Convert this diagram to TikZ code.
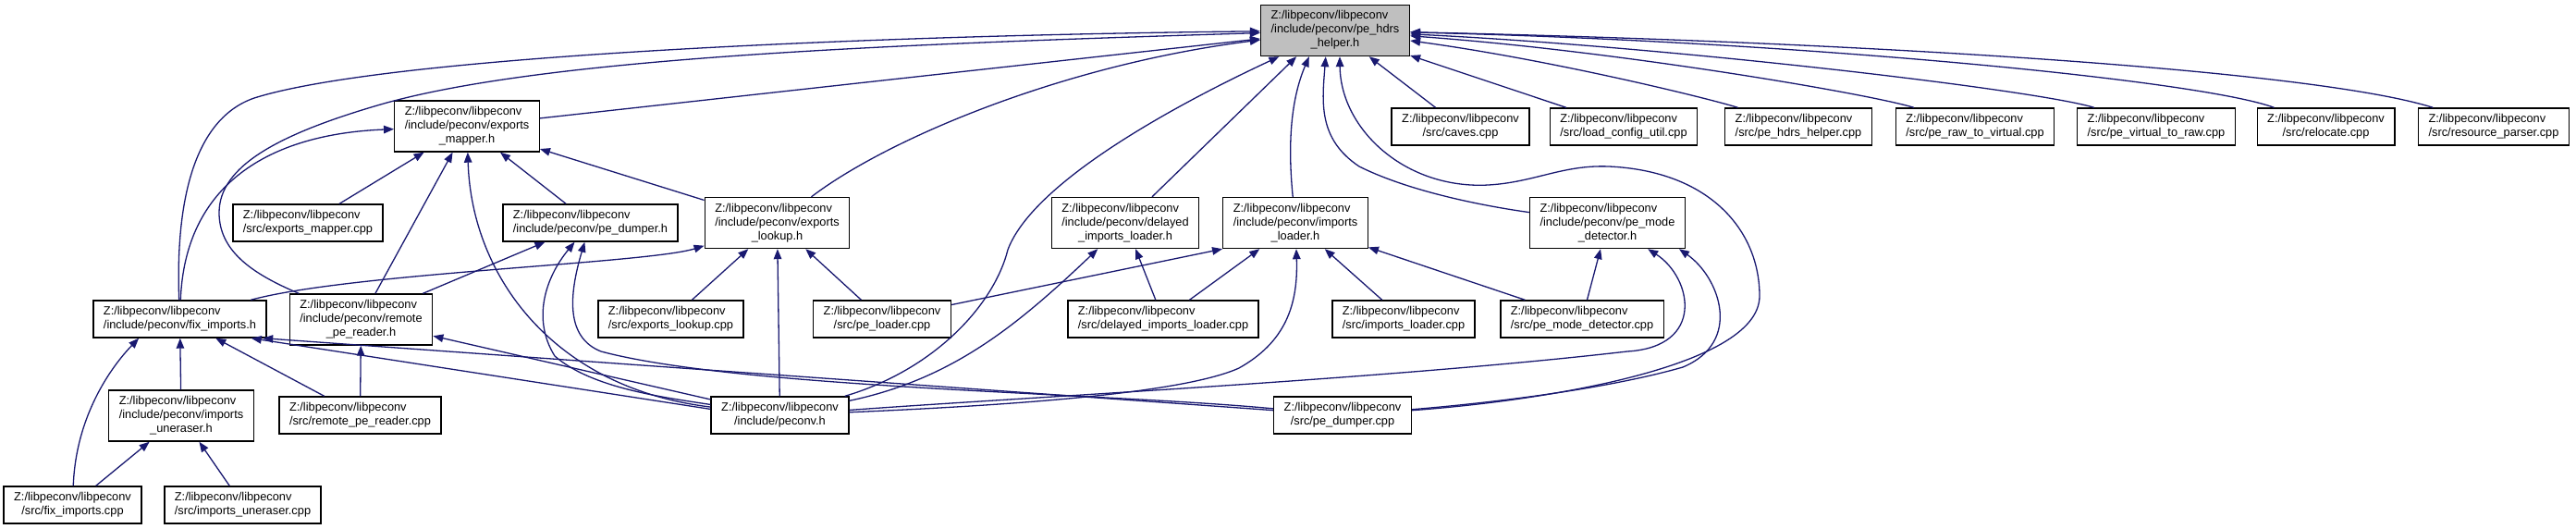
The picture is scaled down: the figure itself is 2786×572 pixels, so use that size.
\documentclass[tikz,border=0pt]{standalone}
\usepackage{fontspec}
\setmainfont{Liberation Sans}
\usetikzlibrary{arrows.meta}
\definecolor{edgeblue}{HTML}{191970}
\definecolor{curgray}{HTML}{BFBFBF}
\newcommand\libdir{Z:/libpeconv/libpeconv}
\newcommand\twol[1]{\begin{tabular}{@{}l@{}}\libdir\\\multicolumn{1}{@{}c@{}}{#1}\end{tabular}}
\newcommand\threel[2]{\begin{tabular}{@{}l@{}}\libdir\\#1\\\multicolumn{1}{@{}c@{}}{#2}\end{tabular}}
\begin{document}
\begin{tikzpicture}[x=1pt,y=-1pt,line width=1pt,
  file/.style={draw=black,line width=1.4pt,fill=white,inner xsep=11pt,inner ysep=5pt,font=\fontsize{12.8}{15}\selectfont},
  cur/.style={file,fill=curgray},
  inc/.style={draw=edgeblue,line width=1.3pt,arrows={Triangle[length=11pt,width=8.5pt]-}}]
\useasboundingbox (0,0) rectangle (2786,572);
\node[cur] (hdrs) at (1444,33) {\threel{/include/peconv/pe\_hdrs}{\_helper.h}};
\node[file] (emh) at (505,136.5) {\threel{/include/peconv/exports}{\_mapper.h}};
\node[file] (caves) at (1579.5,137) {\twol{/src/caves.cpp}};
\node[file] (lcu) at (1756,137) {\twol{/src/load\_config\_util.cpp}};
\node[file] (hdrscpp) at (1945,137) {\twol{/src/pe\_hdrs\_helper.cpp}};
\node[file] (r2v) at (2136,137) {\twol{/src/pe\_raw\_to\_virtual.cpp}};
\node[file] (v2r) at (2332,137) {\twol{/src/pe\_virtual\_to\_raw.cpp}};
\node[file] (reloc) at (2515.5,137) {\twol{/src/relocate.cpp}};
\node[file] (rsrc) at (2697,137) {\twol{/src/resource\_parser.cpp}};
\node[file] (emcpp) at (333,241) {\twol{/src/exports\_mapper.cpp}};
\node[file] (pdh) at (638.5,241) {\twol{/include/peconv/pe\_dumper.h}};
\node[file] (elh) at (840.5,241) {\threel{/include/peconv/exports}{\_lookup.h}};
\node[file] (dilh) at (1217,241) {\threel{/include/peconv/delayed}{\_imports\_loader.h}};
\node[file] (ilh) at (1401,241) {\threel{/include/peconv/imports}{\_loader.h}};
\node[file] (pmdh) at (1738.5,241) {\threel{/include/peconv/pe\_mode}{\_detector.h}};
\node[file] (fih) at (194.5,345) {\twol{/include/peconv/fix\_imports.h}};
\node[file] (rprh) at (390.5,345.5) {\threel{/include/peconv/remote}{\_pe\_reader.h}};
\node[file] (elcpp) at (725.5,345) {\twol{/src/exports\_lookup.cpp}};
\node[file] (plcpp) at (954,345) {\twol{/src/pe\_loader.cpp}};
\node[file] (dilcpp) at (1258,345) {\twol{/src/delayed\_imports\_loader.cpp}};
\node[file] (ilcpp) at (1518,345) {\twol{/src/imports\_loader.cpp}};
\node[file] (pmdcpp) at (1711,345) {\twol{/src/pe\_mode\_detector.cpp}};
\node[file] (iuh) at (196,449.5) {\threel{/include/peconv/imports}{\_uneraser.h}};
\node[file] (rprcpp) at (389.5,449) {\twol{/src/remote\_pe\_reader.cpp}};
\node[file] (peconv) at (843.5,449) {\twol{/include/peconv.h}};
\node[file] (pdcpp) at (1452,449) {\twol{/src/pe\_dumper.cpp}};
\node[file] (ficpp) at (78.5,546) {\twol{/src/fix\_imports.cpp}};
\node[file] (iucpp) at (262.5,546) {\twol{/src/imports\_uneraser.cpp}};
\draw[inc] (hdrs) -- (caves);
\draw[inc] (hdrs) -- (lcu);
\draw[inc] (hdrs) .. controls (1680,65) and (1850,107) .. (hdrscpp);
\draw[inc] (hdrs) .. controls (1750,55) and (2024,102) .. (r2v);
\draw[inc] (hdrs) .. controls (1800,50) and (2202,97) .. (v2r);
\draw[inc] (hdrs) .. controls (1950,45) and (2380,87) .. (reloc);
\draw[inc] (hdrs) .. controls (2000,45) and (2500,75) .. (rsrc);
\draw[inc] (hdrs) -- (emh);
\draw[inc] (hdrs) .. controls (1150,70) and (960,150) .. (elh);
\draw[inc] (hdrs) .. controls (1000,47) and (600,60) .. (415,112) .. controls (300,145) and (237,180) .. (237,230) .. controls (237,270) and (270,295) .. (rprh);
\draw[inc] (hdrs) .. controls (950,38) and (420,60) .. (275,106) .. controls (205,130) and (190,230) .. (fih);
\draw[inc] (hdrs) .. controls (1300,100) and (1120,190) .. (1090,270) .. controls (1075,330) and (1010,400) .. (peconv);
\draw[inc] (hdrs.-146) -- (dilh);
\draw[inc] (hdrs.-135) .. controls (1395,110) and (1393,160) .. (ilh);
\draw[inc] (hdrs.-110) .. controls (1430,110) and (1425,150) .. (1470,180) .. controls (1530,210) and (1620,225) .. (pmdh);
\draw[inc] (hdrs.-80) .. controls (1450,140) and (1520,205) .. (1610,200) .. controls (1660,197) and (1690,178) .. (1740,180) .. controls (1850,185) and (1903,250) .. (1903,320) .. controls (1903,400) and (1650,435) .. (pdcpp);
\draw[inc] (emh) -- (emcpp);
\draw[inc] (emh) -- (rprh);
\draw[inc] (emh) .. controls (510,300) and (600,420) .. (peconv);
\draw[inc] (emh) -- (pdh);
\draw[inc] (emh) -- (elh);
\draw[inc] (emh) .. controls (290,145) and (200,200) .. (fih);
\draw[inc] (pdh) -- (rprh);
\draw[inc] (pdh) .. controls (590,300) and (575,345) .. (600,385) .. controls (640,420) and (720,430) .. (peconv);
\draw[inc] (pdh) .. controls (615,320) and (612,365) .. (650,380) .. controls (800,420) and (1200,425) .. (pdcpp);
\draw[inc] (elh) -- (elcpp);
\draw[inc] (elh) -- (peconv);
\draw[inc] (elh) -- (plcpp);
\draw[inc] (elh) .. controls (700,285) and (380,295) .. (fih);
\draw[inc] (dilh) .. controls (1100,352) and (1030,410) .. (peconv);
\draw[inc] (dilh) -- (dilcpp);
\draw[inc] (ilh.south west) -- (plcpp);
\draw[inc] (ilh) -- (dilcpp);
\draw[inc] (ilh) .. controls (1404,330) and (1390,370) .. (1340,398) .. controls (1280,425) and (1100,438) .. (peconv);
\draw[inc] (ilh) -- (ilcpp);
\draw[inc] (ilh) -- (pmdcpp);
\draw[inc] (pmdh) -- (pmdcpp);
\draw[inc] (pmdh) .. controls (1830,300) and (1845,375) .. (1760,380) .. controls (1500,410) and (1100,430) .. (peconv);
\draw[inc] (pmdh.-20) .. controls (1860,300) and (1885,370) .. (1820,397) .. controls (1740,420) and (1620,435) .. (pdcpp);
\draw[inc] (fih.-155) .. controls (120,397) and (82,450) .. (ficpp);
\draw[inc] (fih) -- (iuh);
\draw[inc] (fih) -- (rprcpp);
\draw[inc] (fih.-15) -- (peconv.175);
\draw[inc] (fih.-13) -- (pdcpp);
\draw[inc] (rprh) -- (rprcpp);
\draw[inc] (rprh) -- (peconv);
\draw[inc] (iuh) -- (ficpp);
\draw[inc] (iuh) -- (iucpp);
\end{tikzpicture}
\end{document}
